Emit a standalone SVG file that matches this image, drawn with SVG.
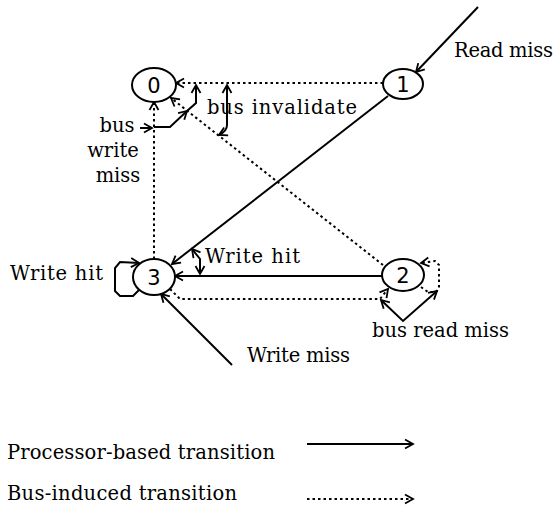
<svg xmlns="http://www.w3.org/2000/svg" width="557" height="509" viewBox="0 0 557 509">
<style>
.n{fill:#fff;stroke:#000;stroke-width:2}
.t{font-family:"DejaVu Serif","Liberation Serif",serif;font-size:19.5px;fill:#000}
.d{font-family:"DejaVu Sans","Liberation Sans",sans-serif;font-size:21px;fill:#000;text-anchor:middle}
.s{fill:none;stroke:#000;stroke-width:2}
.b{fill:none;stroke:#000;stroke-width:2;stroke-dasharray:2.5 3}
.a{marker-end:url(#ah)}
.a2{marker-start:url(#ah);marker-end:url(#ah)}
</style>
<defs>
<marker id="ah" viewBox="-10 -6 12 12" refX="0" refY="0" markerWidth="12" markerHeight="12" markerUnits="userSpaceOnUse" orient="auto-start-reverse">
<path d="M -8 -4.5 L 0 0 L -8 4.5" fill="none" stroke="#000" stroke-width="1.8"/>
</marker>
</defs>
<rect width="557" height="509" fill="#fff"/>
<g id="connectors">
<path class="s a" d="M 478 7 L 416 72"/>
<path class="b a" d="M 383 83 L 176 83"/>
<path class="s a" d="M 388 96 L 172 264"/>
<path class="b a" d="M 383 265 L 171 98"/>
<path class="b a" d="M 154 259 L 154 102"/>
<path class="s a" d="M 382 276 L 175 276"/>
<path class="b a" d="M 170 289 L 180 299 L 380 299 L 388 289"/>
<path class="s a" d="M 140 289 L 133 296 L 120 296 L 115 291 L 115 268 L 120 262 L 139 263"/>
<path class="b a" d="M 421 287 L 428 292 L 436 292 L 439 288 L 439 265 L 435 261 L 421 263"/>
<path class="s a" d="M 232 365 L 161 294"/>
</g>
<g id="annotations">
<path class="s a" d="M 140 128 L 152 128"/>
<path class="s a" d="M 154 127 L 170 127 L 187 111"/>
<path class="s a" d="M 187 111 L 196 103 L 196 85"/>
<path class="s a2" d="M 227 85 L 227 125 Q 227 131 219 135"/>
<path class="s a2" d="M 192 249 L 200 259 L 200 274"/>
<path class="s a2" d="M 381 300 L 403 321 L 437 291"/>
</g>
<g id="node0"><ellipse class="n" cx="154" cy="85" rx="22" ry="17"/><text class="d" x="154" y="93">0</text></g>
<g id="node1"><ellipse class="n" cx="403" cy="84" rx="20" ry="15"/><text class="d" x="403" y="92">1</text></g>
<g id="node2"><ellipse class="n" cx="403" cy="275" rx="21" ry="16"/><text class="d" x="403" y="283">2</text></g>
<g id="node3"><ellipse class="n" cx="154" cy="277" rx="21" ry="18"/><text class="d" x="154" y="285">3</text></g>
<g id="labels">
<text class="t" x="454" y="57" textLength="99">Read miss</text>
<text class="t" x="207" y="114" textLength="150">bus invalidate</text>
<text class="t" x="117" y="132" text-anchor="middle">bus</text>
<text class="t" x="113" y="157" text-anchor="middle">write</text>
<text class="t" x="118" y="182" text-anchor="middle">miss</text>
<text class="t" x="10" y="280" textLength="93">Write hit</text>
<text class="t" x="205" y="263" textLength="95">Write hit</text>
<text class="t" x="372" y="337" textLength="137">bus read miss</text>
<text class="t" x="247" y="362" textLength="103">Write miss</text>
</g>
<g id="legend">
<text class="t" x="7" y="459" textLength="268">Processor-based transition</text>
<text class="t" x="7" y="500" textLength="230">Bus-induced transition</text>
<path class="s a" d="M 307 444 L 413 444"/>
<path class="b a" d="M 307 499 L 413 499"/>
</g>
</svg>
